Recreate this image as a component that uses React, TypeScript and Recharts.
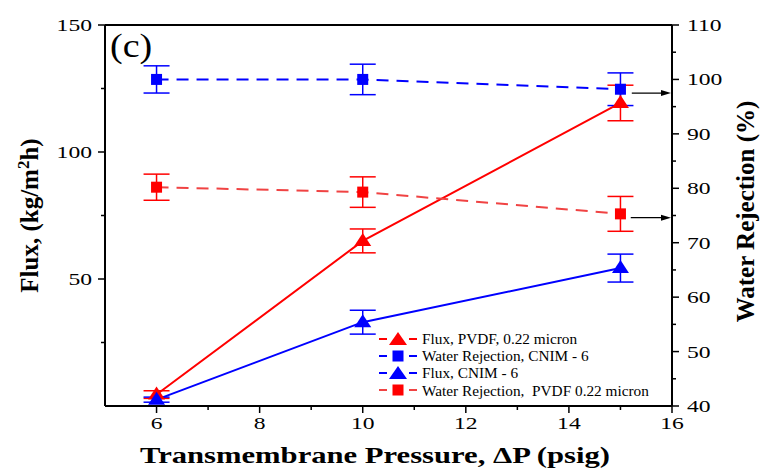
import React from "react";
import {
  ComposedChart,
  Line,
  XAxis,
  YAxis,
  ErrorBar,
  ReferenceLine,
  Legend,
  Label,
} from "recharts";

// transmembrane pressure (psig)
const pressure = [6, 10, 15];

// flux, kg/m2h (left axis)
const fluxPvdf = [4.5, 65, 119.3];
const fluxPvdfErr = [1.5, 4.7, 7];
const fluxCnim = [2.5, 33, 54.3];
const fluxCnimErr = [1, 4.7, 5.5];

// water rejection, % (right axis)
const rejCnim = [100, 100, 98.2];
const rejCnimErr = [2.5, 2.8, 3];
const rejPvdf = [80.2, 79.3, 75.3];
const rejPvdfErr = [2.4, 2.8, 3.2];

const xTicks = [6, 7, 8, 9, 10, 11, 12, 13, 14, 15, 16];
const leftTicks = [25, 50, 75, 100, 125, 150];
const rightTicks = [40, 45, 50, 55, 60, 65, 70, 75, 80, 85, 90, 95, 100, 105, 110];

const RED = "#ff0000";
const RED_DASH = "#f04343";
const BLUE = "#0000ff";
const FONT = "'Liberation Serif', 'Times New Roman', serif";

const legendItems = [
  { name: "Flux, PVDF, 0.22 micron", color: RED, marker: "tri" },
  { name: "Water Rejection, CNIM - 6", color: BLUE, marker: "sq" },
  { name: "Flux, CNIM - 6", color: BLUE, marker: "tri" },
  { name: "Water Rejection,  PVDF 0.22 micron", color: RED_DASH, marker: "sq" },
];

const rows = pressure.map((p, i) => ({
  p,
  fluxPvdf: fluxPvdf[i],
  fluxPvdfErr: fluxPvdfErr[i],
  fluxCnim: fluxCnim[i],
  fluxCnimErr: fluxCnimErr[i],
  rejCnim: rejCnim[i],
  rejCnimErr: rejCnimErr[i],
  rejPvdf: rejPvdf[i],
  rejPvdfErr: rejPvdfErr[i],
}));

const tickText = {
  fontFamily: FONT,
  fontSize: 17.5,
  fill: "#000",
};

const XTick = (props: any) => {
  const { x, y, payload } = props;
  const major = payload.value % 2 === 0;
  return (
    <g>
      <line x1={x} x2={x} y1={y} y2={y + (major ? 7 : 4)} stroke="#000" strokeWidth={1.5} />
      {major && (
        <text
          transform={`translate(${x},${y + 23}) scale(1.35,1)`}
          textAnchor="middle"
          {...tickText}
        >
          {payload.value}
        </text>
      )}
    </g>
  );
};

const LeftTick = (props: any) => {
  const { x, y, payload } = props;
  const major = payload.value % 50 === 0;
  return (
    <g>
      <line x1={x} x2={x - (major ? 7 : 4)} y1={y} y2={y} stroke="#000" strokeWidth={1.5} />
      {major && (
        <text
          transform={`translate(${x - 13},${y + 6}) scale(1.35,1)`}
          textAnchor="end"
          {...tickText}
        >
          {payload.value}
        </text>
      )}
    </g>
  );
};

const RightTick = (props: any) => {
  const { x, y, payload } = props;
  const major = payload.value % 10 === 0;
  return (
    <g>
      <line x1={x} x2={x + (major ? 7 : 4)} y1={y} y2={y} stroke="#000" strokeWidth={1.5} />
      {major && (
        <text
          transform={`translate(${x + 15},${y + 6}) scale(1.35,1)`}
          textAnchor="start"
          {...tickText}
        >
          {payload.value}
        </text>
      )}
    </g>
  );
};

const triDot = (color: string) => (p: any) => {
  const { cx, cy, index } = p;
  if (cx == null || cy == null) return <g key={`t${index}`} />;
  return (
    <polygon
      key={`t${index}`}
      points={`${cx},${cy - 8} ${cx - 8.5},${cy + 5} ${cx + 8.5},${cy + 5}`}
      fill={color}
    />
  );
};

const sqDot = (color: string) => (p: any) => {
  const { cx, cy, index } = p;
  if (cx == null || cy == null) return <g key={`s${index}`} />;
  return <rect key={`s${index}`} x={cx - 5.5} y={cy - 5.5} width={11} height={11} fill={color} />;
};

const Arrow = (p: any) => {
  const { x1, y1, x2 } = p;
  return (
    <g>
      <line x1={x1} y1={y1} x2={x2 - 8} y2={y1} stroke="#000" strokeWidth={1.2} />
      <polygon points={`${x2 - 1},${y1} ${x2 - 11},${y1 - 3} ${x2 - 11},${y1 + 3}`} fill="#000" />
    </g>
  );
};

const renderLegend = () => (
  <div style={{ fontFamily: FONT, fontSize: 15.3, color: "#000", lineHeight: "17.2px" }}>
    {legendItems.map((it) => (
      <div key={it.name} style={{ display: "flex", alignItems: "center", whiteSpace: "pre" }}>
        <svg width={42} height={14} style={{ marginRight: 2 }}>
          <line x1={1} x2={9} y1={7} y2={7} stroke={it.color} strokeWidth={2} />
          <line x1={31} x2={39} y1={7} y2={7} stroke={it.color} strokeWidth={2} />
          {it.marker === "tri" ? (
            <polygon points="20,0 11,13 29,13" fill={it.color === RED_DASH ? RED : it.color} />
          ) : (
            <rect x={14.5} y={1.5} width={11} height={11} fill={it.color === RED_DASH ? RED : it.color} />
          )}
        </svg>
        <span>{it.name}</span>
      </div>
    ))}
  </div>
);

const XTitle = (props: any) => {
  const vb = props.viewBox;
  return (
    <text
      x={375}
      y={vb.y + 57}
      textAnchor="middle"
      fontFamily={FONT}
      fontWeight="bold"
      fontSize={24}
      textLength={470}
      lengthAdjust="spacingAndGlyphs"
    >
      Transmembrane Pressure, ΔP (psig)
    </text>
  );
};

const LeftTitle = (props: any) => {
  const vb = props.viewBox;
  const cy = vb.y + vb.height / 2;
  return (
    <text
      transform={`translate(38,${cy}) rotate(-90)`}
      textAnchor="middle"
      fontFamily={FONT}
      fontWeight="bold"
      fontSize={25}
    >
      Flux, (kg/m<tspan dy={-9} fontSize={17}>2</tspan>
      <tspan dy={9}>h)</tspan>
    </text>
  );
};

const RightTitle = (props: any) => {
  const vb = props.viewBox;
  const cy = vb.y + vb.height / 2;
  return (
    <text
      transform={`translate(754,${cy - 4}) rotate(-90)`}
      textAnchor="middle"
      fontFamily={FONT}
      fontWeight="bold"
      fontSize={25}
    >
      Water Rejection (%)
    </text>
  );
};

export default function App() {
  return (
    <div style={{ position: "absolute", left: 0, top: 0, background: "#fff" }}>
      <ComposedChart
        width={761}
        height={468}
        data={rows}
        margin={{ top: 25, right: 0, bottom: 0, left: 0 }}
      >
        <XAxis
          dataKey="p"
          type="number"
          domain={[5, 16]}
          ticks={xTicks}
          interval={0}
          height={62}
          tickSize={0}
          tickMargin={0}
          tickLine={false}
          axisLine={{ stroke: "#000", strokeWidth: 2 }}
          tick={<XTick />}
        >
          <Label content={<XTitle />} />
        </XAxis>
        <YAxis
          yAxisId="left"
          orientation="left"
          width={105}
          domain={[0, 150]}
          ticks={leftTicks}
          interval={0}
          tickSize={0}
          tickMargin={0}
          tickLine={false}
          axisLine={{ stroke: "#000", strokeWidth: 2 }}
          tick={<LeftTick />}
        >
          <Label content={<LeftTitle />} />
        </YAxis>
        <YAxis
          yAxisId="right"
          orientation="right"
          width={89}
          domain={[40, 110]}
          ticks={rightTicks}
          interval={0}
          tickSize={0}
          tickMargin={0}
          tickLine={false}
          axisLine={{ stroke: "#000", strokeWidth: 2 }}
          tick={<RightTick />}
        >
          <Label content={<RightTitle />} />
        </YAxis>

        <ReferenceLine yAxisId="left" y={150} stroke="#000" strokeWidth={2} />

        <Line
          yAxisId="left"
          dataKey="fluxPvdf"
          type="linear"
          stroke={RED}
          strokeWidth={2}
          dot={triDot(RED)}
          activeDot={false}
          isAnimationActive={false}
        >
          <ErrorBar dataKey="fluxPvdfErr" width={13} stroke={RED} strokeWidth={1.5} direction="y" />
        </Line>
        <Line
          yAxisId="right"
          dataKey="rejCnim"
          type="linear"
          stroke={BLUE}
          strokeWidth={2}
          strokeDasharray="12 8"
          dot={sqDot(BLUE)}
          activeDot={false}
          isAnimationActive={false}
        >
          <ErrorBar dataKey="rejCnimErr" width={13} stroke={BLUE} strokeWidth={1.5} direction="y" />
        </Line>
        <Line
          yAxisId="left"
          dataKey="fluxCnim"
          type="linear"
          stroke={BLUE}
          strokeWidth={2}
          dot={triDot(BLUE)}
          activeDot={false}
          isAnimationActive={false}
        >
          <ErrorBar dataKey="fluxCnimErr" width={13} stroke={BLUE} strokeWidth={1.5} direction="y" />
        </Line>
        <Line
          yAxisId="right"
          dataKey="rejPvdf"
          type="linear"
          stroke={RED_DASH}
          strokeWidth={2}
          strokeDasharray="12 8"
          dot={sqDot(RED)}
          activeDot={false}
          isAnimationActive={false}
        >
          <ErrorBar dataKey="rejPvdfErr" width={13} stroke={RED} strokeWidth={1.5} direction="y" />
        </Line>

        <ReferenceLine
          yAxisId="right"
          segment={[
            { x: 15.22, y: 97.5 },
            { x: 16, y: 97.5 },
          ]}
          shape={Arrow}
        />
        <ReferenceLine
          yAxisId="right"
          segment={[
            { x: 15.2, y: 74.6 },
            { x: 16, y: 74.6 },
          ]}
          shape={Arrow}
        />

        <text
          transform="translate(110,57) scale(1.12,1)"
          fontFamily={FONT}
          fontSize={34}
          fill="#000"
        >
          (c)
        </text>

        <Legend
          layout="vertical"
          align="center"
          verticalAlign="middle"
          content={renderLegend}
          wrapperStyle={{ position: "absolute", left: 378, top: 330, width: 320, height: 70 }}
        />
      </ComposedChart>
    </div>
  );
}
